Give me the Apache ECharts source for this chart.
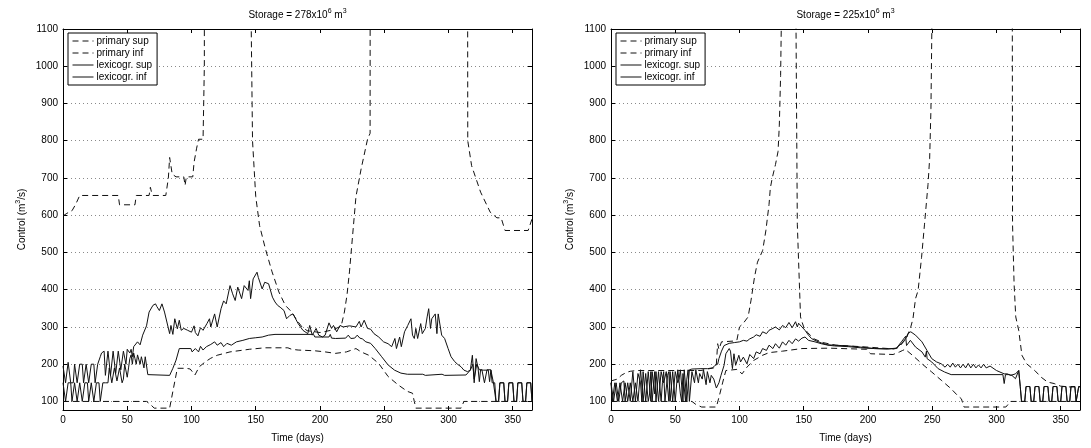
<!DOCTYPE html>
<html><head><meta charset="utf-8">
<script src="https://cdn.jsdelivr.net/npm/echarts@6/dist/echarts.min.js"></script>
<style>html,body{margin:0;padding:0;background:#fff}#c{width:1091px;height:448px}</style>
</head><body><div id="c"></div>
<script>
// ---------- tick labels ----------
var xTicks = [0, 50, 100, 150, 200, 250, 300, 350];
var yTicks = [100, 200, 300, 400, 500, 600, 700, 800, 900, 1000, 1100];
var seriesNames = ['primary sup', 'primary inf', 'lexicogr. sup', 'lexicogr. inf'];
var titles = ['Storage = 278x10{sup|6} m{sup|3}', 'Storage = 225x10{sup|6} m{sup|3}'];
// values above 1100 are "unbounded" (off the top of the axis)
var OFF = 5000;

// ---------- left panel (278e6 m3) ----------
var L_primarySup = [[0,598],[3,605],[7,612],[10,630],[13,653],[43,653],[44,628],[56,628],[57,653],[67,653],[68,675],[69,660],[70,653],[80,653],[82,700],[83,755],[85,710],[88,703],[94,703],[95,680],[96,703],[101,703],[102,742],[104,780],[105.5,804],[109,804],[110,1000],[110.5,OFF],[146,OFF],[146.5,1100],[147.5,800],[150,650],[153,572],[157.5,510],[162.7,448],[168,394],[173,358],[178,340],[182,318],[186,300],[190,290],[200,285],[210,292],[215,300],[217,310],[219,340],[221,385],[223,450],[224.5,510],[228,650],[232,724],[237,804],[239,820],[239.5,OFF],[314,OFF],[315,800],[318,733],[325,662],[332.5,608],[337.7,593],[341,593],[344,559],[362,559],[365,590]];
var L_primaryInf = [[0,100],[65,100],[68,92],[71,82],[83,82],[85.5,127],[89,189],[96,189],[99,187],[102.7,171],[106,193],[111,207],[115,216],[120,224],[130,233],[145,240],[157,244],[175,244],[178,240],[183,238],[196,236],[204,233],[212,229],[220.6,233],[228,242],[232,233],[238,224],[245.7,202],[253,167],[261,144],[268,127],[272,122],[273.4,100],[274.6,82],[309.8,82],[312,100],[365,100]];
var L_lexSup = [[0,195],[1,200],[2,150],[3,150],[4,205],[5,200],[6,150],[7,150],[8,150],[9,200],[10,200],[11,150],[12,150],[13,200],[14,200],[15,200],[16,150],[17,150],[18,200],[19,200],[20,150],[21,150],[22,200],[23,200],[24,200],[25,150],[26,150],[27,200],[28,200],[29,220],[30,230],[31,235],[32,235],[33,170],[34,170],[35,235],[36,235],[37,170],[38,170],[39,235],[40,235],[41,175],[42,175],[43,235],[44,235],[45,185],[46,185],[47,235],[48,235],[49,200],[50,240],[51,245],[52,230],[53,240],[54,220],[55,247],[58,260],[60,252],[62,278],[65,303],[67,340],[70,358],[72,362],[73,355],[75,344],[77,362],[79,340],[80,335],[83,282],[84,304],[85.5,280],[87,322],[89,295],[90.5,318],[92,291],[94,296],[97,291],[100,286],[102,303],[103,285],[105,276],[107,298],[109,291],[112,309],[114,322],[115,300],[118,335],[120,300],[123,349],[125,370],[127,362],[130,411],[132,389],[134,371],[136,407],[139,376],[141,411],[144,398],[145,424],[146,376],[148,429],[151,447],[152,433],[155,402],[157,420],[160,416],[161.5,420],[163,380],[165,367],[167,358],[169,353],[172,344],[174,322],[176.6,331],[179,335],[183,309],[186.7,291],[190.5,282],[192,304],[194,278],[197,296],[199,278],[202,273],[204,278],[207,311],[209,296],[210.5,304],[213,287],[215.6,304],[218,300],[223,303],[228,300],[230.6,315],[232,300],[234.4,318],[237,296],[239.4,294],[242,282],[245.7,273],[249.5,260],[253,255],[255.8,247],[258.3,269],[259.5,242],[262,273],[263.3,247],[265.8,287],[268.3,304],[270.8,322],[272,278],[273.4,269],[274.6,296],[276,269],[278.4,309],[279.6,282],[282,296],[283.4,327],[284.6,349],[286,296],[287,322],[289.7,335],[291,282],[292,335],[293.5,331],[294.7,278],[297,269],[299.7,242],[302,220],[304.8,207],[307,200],[309.8,193],[312,184],[314.8,180],[317,184],[318.6,224],[320,150],[321.5,215],[323,190],[324,153],[325,185],[327,184],[331,184],[332,153],[333,184],[334,184],[335,150],[336,150],[337,100],[339,100],[340,150],[343,150],[344,100],[346,100],[347,150],[350,150],[351,100],[353,100],[354,150],[357,150],[358,100],[360,100],[361,150],[364,150],[365,100]];
var L_lexInf = [[0,150],[1,150],[2,100],[3,100],[4,150],[5,150],[6,150],[7,100],[8,100],[9,150],[10,150],[11,100],[12,100],[13,150],[14,150],[15,100],[16,100],[17,150],[18,150],[19,150],[20,100],[21,100],[22,150],[23,150],[24,100],[25,100],[26,150],[27,150],[28,150],[29,100],[30,100],[31,150],[32,150],[33,150],[34,155],[35,150],[36,190],[37,190],[38,150],[39,150],[40,190],[41,190],[42,155],[43,160],[44,190],[45,195],[46,150],[47,160],[48,200],[49,200],[50,165],[51,190],[52,215],[53,225],[54,200],[55,230],[56,215],[57,200],[58,225],[59,220],[60,200],[61,220],[62,215],[63,190],[64,220],[65,215],[66,172],[67,170],[83,170],[85.5,189],[88,211],[90.5,242],[99.5,242],[100.5,233],[103,242],[105.5,233],[107,248],[109,238],[111.6,247],[115,253],[118,260],[120,251],[123,258],[125,247],[127.6,256],[131,251],[135,260],[140,264],[145,269],[150,271],[155,273],[160,278],[165,280],[195,280],[196,273],[207,273],[208,280],[209,270],[212,269],[220,270],[222,278],[224,269],[227,270],[229,278],[231,270],[233,268],[235.7,260],[239.4,256],[243,242],[248,220],[253,198],[258,184],[263,176],[268,173],[280,173],[282,170],[283,173],[295,173],[297,170],[298,173],[313.6,171],[317,184],[318,180],[319,200],[320,160],[322,200],[324,185],[326,185],[328,150],[330,185],[333,185],[334,150],[336,150],[337,100],[339,100],[340,150],[343,150],[344,100],[346,100],[347,150],[350,150],[351,100],[353,100],[354,150],[357,150],[358,100],[360,100],[361,150],[364,150],[365,100]];

// ---------- right panel (225e6 m3) ----------
var R_primarySup = [[0,155],[5,160],[8,170],[12,178],[15,181],[20,183],[70,183],[75,187],[80,190],[82,200],[83,255],[84,240],[86,260],[95,262],[98,265],[100,300],[103,310],[106.7,327],[109,372],[111.7,434],[114,474],[118,505],[120.5,558],[123,629],[124,673],[125.5,700],[128,736],[130,771],[131,842],[132,975],[132.5,1100],[133,OFF],[143.5,OFF],[144,1100],[145,576],[147.5,327],[148.5,315],[150,300],[153,285],[158,268],[165,258],[175,251],[195,247],[220,241],[224,245],[230,270],[233.3,300],[235,322],[237,376],[239,398],[241.7,487],[244,576],[246.7,682],[248,753],[249,886],[249.7,1100],[250,OFF],[311,OFF],[312.5,576],[313.7,416],[315,327],[317.3,291],[319.8,224],[323.5,201],[329.8,183],[334.8,165],[339.8,152],[344.9,148],[350,141],[357,139],[365,139]];
var R_primaryInf = [[0,100],[63,100],[66,92],[70.5,85],[82,85],[84.4,116],[87,152],[89.4,183],[90.7,186],[98,186],[102,174],[105.8,192],[111,210],[118,224],[123,231],[133.5,235],[148.6,242],[170,243],[199,240],[202,228],[219.5,226],[224.6,233],[227,237],[229,240],[234.6,224],[242,201],[249.6,179],[257,157],[264.7,134],[269.7,116],[272.7,107],[274.7,85],[307.3,85],[311,100],[365,100]];
var R_lexSup = [[0,150],[1,155],[2,100],[3,100],[4,150],[5,155],[6,100],[7,100],[8,150],[9,150],[10,155],[11,100],[12,100],[13,150],[14,150],[15,100],[16,100],[17,180],[18,180],[19,100],[20,100],[21,175],[22,180],[23,150],[24,100],[25,180],[26,180],[27,100],[28,100],[29,180],[30,180],[31,100],[32,180],[33,180],[34,120],[35,180],[36,180],[37,100],[38,100],[39,180],[40,180],[41,150],[42,150],[43,180],[44,180],[45,100],[46,180],[47,180],[48,100],[49,100],[50,180],[51,185],[52,150],[53,160],[54,185],[55,185],[56,100],[57,185],[58,185],[59,100],[60,100],[61,185],[62,185],[63,187],[70,188],[75,188],[79,190],[81,197],[83,200],[84,215],[86,235],[88,250],[89,255],[92,256],[96,258],[100,260],[103,264],[105.8,262],[108,268],[111,273],[113,279],[116,275],[118,287],[121,282],[123,291],[126,296],[128,300],[131,292],[133.5,304],[136,298],[138.5,312],[141,298],[143.6,314],[145,300],[146,310],[148.6,300],[151,291],[153.7,278],[156,269],[158.7,264],[163.7,257],[168.8,252],[174,251],[185,249],[194,246],[205,242],[215,241],[222,243],[226,255],[229.6,270],[231,282],[233.3,287],[237,278],[242,260],[245.9,237],[249.6,215],[253.4,206],[257,201],[260,192],[262,200],[264,192],[266,203],[268,192],[270,200],[272,190],[274,200],[276,190],[278,202],[280,190],[282,200],[284,190],[286,198],[288,190],[290,200],[292,190],[295,195],[300,183],[306,174],[308.5,174],[311,170],[314.8,174],[317.3,183],[318.5,140],[319.5,100],[322,100],[323,140],[326,140],[327,100],[329,100],[330,140],[333,140],[334,100],[336,100],[337,140],[340,140],[341,100],[343,100],[344,140],[347,140],[348,100],[350,100],[351,140],[354,140],[355,100],[357,100],[358,140],[361,140],[362,100],[363,100],[364,140],[365,140]];
var R_lexInf = [[0,150],[1,100],[2,100],[3,150],[4,150],[5,100],[6,100],[7,150],[8,150],[9,100],[10,100],[11,150],[12,150],[13,100],[14,100],[15,150],[16,150],[17,100],[18,100],[19,150],[20,150],[21,100],[22,100],[23,185],[24,185],[25,100],[26,100],[27,175],[28,175],[29,100],[30,120],[31,180],[32,100],[33,100],[34,180],[35,100],[36,100],[37,180],[38,180],[39,100],[40,150],[41,180],[42,100],[43,100],[44,170],[45,180],[46,100],[47,100],[48,180],[49,180],[50,100],[51,100],[52,185],[53,185],[54,120],[55,100],[56,175],[57,180],[58,100],[59,160],[60,185],[61,100],[62,100],[63,180],[65,150],[66,185],[68,150],[69,175],[71,160],[72,185],[74,145],[75,180],[77,150],[78,170],[80,160],[82,136],[84,150],[85.6,170],[88,197],[89.4,228],[92,242],[93,235],[94.5,188],[95.7,228],[97,197],[99.5,224],[100.8,206],[103,219],[105.8,201],[108,226],[111,215],[113,233],[116,228],[118,242],[121,237],[123,251],[126,242],[128,255],[131,243],[133.5,260],[136,251],[138.5,264],[141,255],[143.6,268],[146,262],[148.6,270],[151,273],[153.7,264],[158.7,260],[163.7,255],[168.8,251],[174,249],[185,247],[194,244],[205,242],[215,241],[222,242],[226,260],[229.3,275],[230,250],[233,264],[237,246],[242,233],[244.6,219],[245.5,235],[246,215],[249.6,206],[254.6,188],[259.6,179],[264.7,172],[305,172],[306,148],[307,172],[309.8,172],[312,170],[314.8,161],[317.3,183],[318.5,140],[319.5,100],[322,100],[323,140],[326,140],[327,100],[329,100],[330,140],[333,140],[334,100],[336,100],[337,140],[340,140],[341,100],[343,100],[344,140],[347,140],[348,100],[350,100],[351,140],[354,140],[355,100],[357,100],[358,140],[361,140],[362,100],[363,100],[364,140],[365,140]];

// ---------- chart ----------
var FONT = '"Liberation Sans", Arial, Helvetica, sans-serif';
var Y_MIN = 77, Y_MAX = 1100, X_MAX = 365;
var supRich = { sup: { fontSize: 7, fontFamily: FONT, color: '#000', verticalAlign: 'top', lineHeight: 14 } };

function bottomX(gi) {
  return { gridIndex: gi, type: 'value', position: 'bottom', min: 0, max: X_MAX, interval: 50,
    axisLine: { show: true, onZero: false, lineStyle: { color: '#000', width: 1 } },
    axisTick: { show: true, inside: true, length: 4, lineStyle: { color: '#000' } },
    axisLabel: { show: true, fontSize: 10, fontFamily: FONT, color: '#000', margin: 5,
      formatter: function (v) { return xTicks.indexOf(v) >= 0 ? String(v) : ''; } },
    splitLine: { show: false },
    name: 'Time (days)', nameLocation: 'middle', nameGap: 23,
    nameTextStyle: { fontSize: 10, fontFamily: FONT, color: '#000' } };
}
function topX(gi, title) {
  return { gridIndex: gi, type: 'value', position: 'top', min: 0, max: X_MAX, interval: 50,
    axisLine: { show: true, onZero: false, lineStyle: { color: '#000', width: 1 } },
    axisTick: { show: true, inside: true, length: 4, lineStyle: { color: '#000' } },
    axisLabel: { show: false }, splitLine: { show: false },
    name: title, nameLocation: 'middle', nameGap: 7,
    nameTextStyle: { fontSize: 10, fontFamily: FONT, color: '#000', lineHeight: 14, rich: supRich } };
}
function leftY(gi) {
  return { gridIndex: gi, type: 'value', position: 'left', min: Y_MIN, max: Y_MAX,
    axisLine: { show: true, onZero: false, lineStyle: { color: '#000', width: 1 } },
    axisTick: { show: true, inside: true, length: 4, customValues: yTicks, lineStyle: { color: '#000' } },
    axisLabel: { show: true, customValues: yTicks, fontSize: 10, fontFamily: FONT, color: '#000', margin: 5,
      formatter: function (v) { return String(Math.round(v)); } },
    splitLine: { show: true, lineStyle: { color: '#8a8a8a', width: 1, type: [1, 3] } },
    name: 'Control (m{sup|3}/s)', nameLocation: 'middle', nameGap: 34,
    nameTextStyle: { fontSize: 10, fontFamily: FONT, color: '#000', lineHeight: 14, rich: supRich } };
}
function rightY(gi) {
  return { gridIndex: gi, type: 'value', position: 'right', min: Y_MIN, max: Y_MAX,
    axisLine: { show: true, onZero: false, lineStyle: { color: '#000', width: 1 } },
    axisTick: { show: true, inside: true, length: 4, customValues: yTicks, lineStyle: { color: '#000' } },
    axisLabel: { show: false }, splitLine: { show: false } };
}
function mkSeries(name, data, xi, yi, dashed) {
  return { name: name, type: 'line', data: data, xAxisIndex: xi, yAxisIndex: yi,
    symbol: 'none', showSymbol: false, clip: true, animation: false, silent: true,
    lineStyle: { color: '#111', width: 1, type: dashed ? [6, 4] : 'solid' },
    itemStyle: { color: '#111' } };
}
function mkLegend(left) {
  return { left: left, top: 33, orient: 'vertical', data: seriesNames, selectedMode: false,
    itemWidth: 21, itemHeight: 10, itemGap: 2, padding: [3, 5, 3, 4],
    itemStyle: { color: 'rgba(0,0,0,0)', borderWidth: 0, opacity: 0 },
    lineStyle: { width: 1, color: '#111' },
    backgroundColor: '#fff', borderColor: '#000', borderWidth: 1, borderRadius: 0,
    textStyle: { fontSize: 10, fontFamily: FONT, color: '#000', padding: [0, 0, 0, -2] } };
}

var chart = echarts.init(document.getElementById('c'), null, { renderer: 'canvas' });
chart.setOption({
  animation: false,
  backgroundColor: '#fff',
  grid: [
    { left: 63, top: 29, width: 469, height: 383, show: false },
    { left: 611, top: 29, width: 469, height: 383, show: false }
  ],
  xAxis: [bottomX(0), topX(0, titles[0]), bottomX(1), topX(1, titles[1])],
  yAxis: [leftY(0), rightY(0), leftY(1), rightY(1)],
  legend: [mkLegend(68), mkLegend(616)],
  series: [
    mkSeries('primary sup', L_primarySup, 0, 0, true),
    mkSeries('primary inf', L_primaryInf, 0, 0, true),
    mkSeries('lexicogr. sup', L_lexSup, 0, 0, false),
    mkSeries('lexicogr. inf', L_lexInf, 0, 0, false),
    mkSeries('primary sup', R_primarySup, 2, 2, true),
    mkSeries('primary inf', R_primaryInf, 2, 2, true),
    mkSeries('lexicogr. sup', R_lexSup, 2, 2, false),
    mkSeries('lexicogr. inf', R_lexInf, 2, 2, false)
  ]
});
</script></body></html>
